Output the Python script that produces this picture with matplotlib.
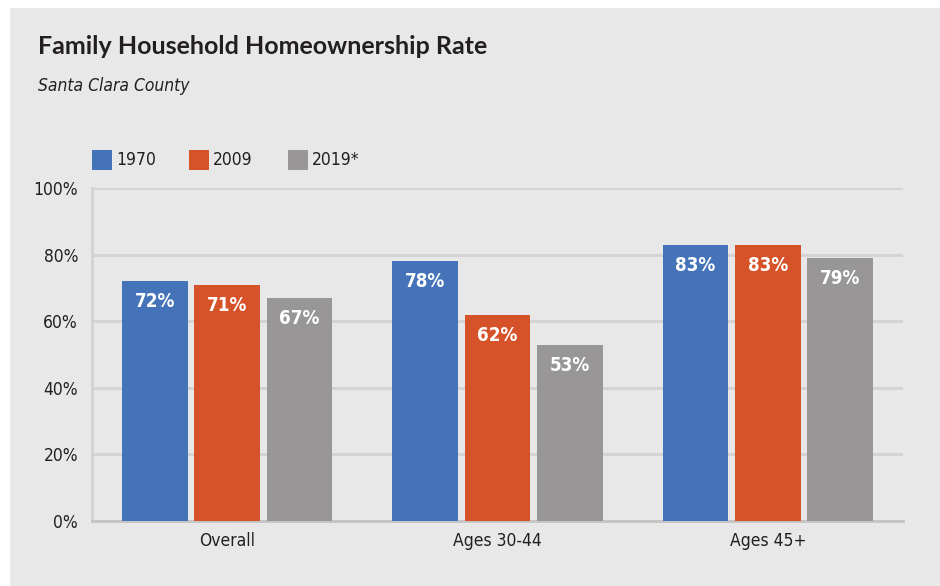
import numpy as np
import matplotlib
matplotlib.use("Agg")
import matplotlib.pyplot as plt
from matplotlib.patches import Rectangle

# data
groups = ["Overall", "Ages 30-44", "Ages 45+"]
years = ["1970", "2009", "2019*"]
rate_1970 = [72, 78, 83]
rate_2009 = [71, 62, 83]
rate_2019 = [67, 53, 79]
colors = ["#4573b9", "#d65228", "#989696"]
yticks = [0, 20, 40, 60, 80, 100]

NARROW = dict(family="DejaVu Sans", stretch="condensed")
BG = "#e8e8e8"
INK = "#231f20"

fig = plt.figure(figsize=(9.4, 5.86), dpi=100)
fig.patch.set_facecolor("white")
fig.add_artist(Rectangle((10 / 940, 0), 1, 1 - 8 / 586, transform=fig.transFigure,
                         facecolor=BG, edgecolor="none", zorder=0))

ax = fig.add_axes([92 / 940, 1 - 521 / 586, (903 - 92) / 940, (521 - 188) / 586])
ax.set_facecolor(BG)

x = np.arange(len(groups))
width = 0.244
step = 0.2675
for i, (vals, col) in enumerate(zip([rate_1970, rate_2009, rate_2019], colors)):
    bars = ax.bar(x + (i - 1) * step, vals, width, color=col, zorder=3)
    for b, v in zip(bars, vals):
        ax.annotate(f"{v}%", (b.get_x() + b.get_width() / 2, v),
                    xytext=(0, -8), textcoords="offset points",
                    ha="center", va="top", color="white", fontsize=13.5,
                    fontweight="bold", zorder=4, **NARROW)

ax.set_xlim(-0.5, 2.5)
ax.set_ylim(0, 100)
ax.set_yticks(yticks)
ax.set_yticklabels([f"{t}%" for t in yticks], fontsize=12.5, color=INK, **NARROW)
ax.set_xticks(x)
ax.set_xticklabels(groups, fontsize=12.5, color=INK, **NARROW)
ax.tick_params(axis="y", length=0, pad=10)
ax.tick_params(axis="x", length=0, pad=8)
ax.grid(axis="y", color="#d2d2d2", linewidth=2, zorder=1)
for s in ["top", "right"]:
    ax.spines[s].set_visible(False)
ax.spines["left"].set_color("#d2d2d2")
ax.spines["left"].set_linewidth(2)
ax.spines["bottom"].set_color("#c4c4c4")
ax.spines["bottom"].set_linewidth(2)

# title block
fig.text(38 / 940, 1 - 46 / 586, "Family Household Homeownership Rate",
         fontsize=18, fontweight="bold", family=["Lato", "DejaVu Sans"],
         color=INK, va="center")
fig.text(38 / 940, 1 - 86 / 586, "Santa Clara County", fontsize=12.5,
         style="italic", color=INK, va="center", **NARROW)

# legend
lx = [92, 189, 288]
for px, lab, col in zip(lx, years, colors):
    fig.add_artist(Rectangle((px / 940, 1 - 170 / 586), 20 / 940, 20 / 586,
                             transform=fig.transFigure, facecolor=col, edgecolor="none"))
    fig.text((px + 24) / 940, 1 - 160 / 586, lab, fontsize=12.5, color=INK,
             va="center", **NARROW)

fig.savefig("out.png", dpi=100, facecolor=fig.get_facecolor())
